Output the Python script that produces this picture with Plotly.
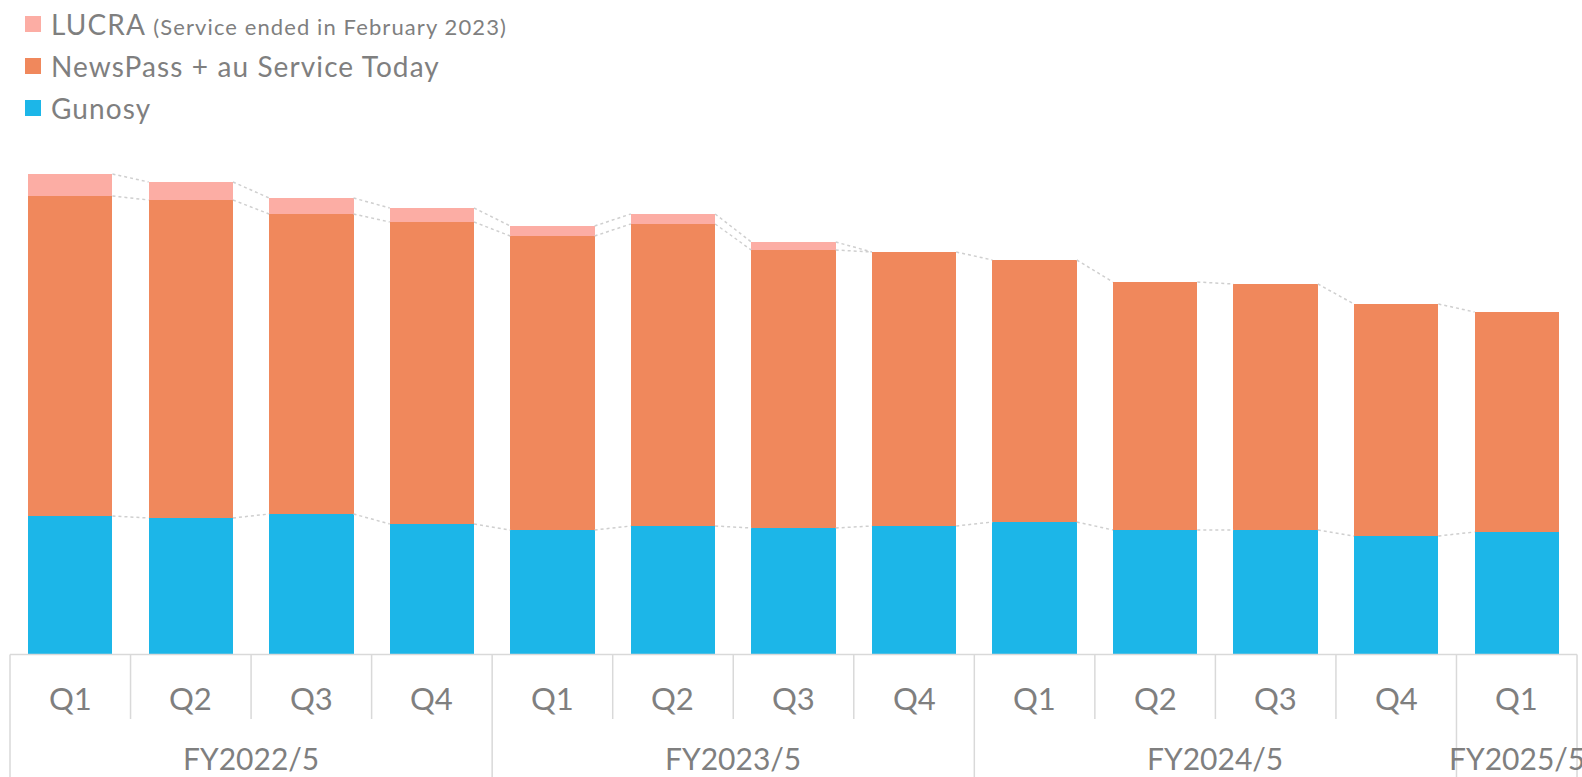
import plotly.graph_objects as go

# ---- data (arbitrary units) ----
quarters = ["Q1", "Q2", "Q3", "Q4", "Q1", "Q2", "Q3", "Q4", "Q1", "Q2", "Q3", "Q4", "Q1"]
fiscal_years = ["FY2022/5", "FY2023/5", "FY2024/5", "FY2025/5"]
fy_sizes = [4, 4, 4, 1]
gunosy = [13.8, 13.6, 14.0, 13.0, 12.4, 12.8, 12.6, 12.8, 13.2, 12.4, 12.4, 11.8, 12.2]
newspass = [32.0, 31.8, 30.0, 30.2, 29.4, 30.2, 27.8, 27.4, 26.2, 24.8, 24.6, 23.2, 22.0]
lucra = [2.2, 1.8, 1.6, 1.4, 1.0, 1.0, 0.8, 0, 0, 0, 0, 0, 0]

series_names = ["Gunosy", "NewsPass + au Service Today", "LUCRA"]
series_colors = ["#1CB6E8", "#F0885C", "#FCADA4"]

BAR_W = 0.7
TEXT_COLOR = "#7f7f7f"
LINE_COLOR = "#d9d9d9"
FONT = "Lato"

n = len(quarters)
x = list(range(n))

fig = go.Figure()
series = [gunosy, newspass, lucra]
for vals, name, col in zip(series, series_names, series_colors):
    fig.add_trace(go.Bar(x=x, y=vals, name=name, width=BAR_W,
                         marker=dict(color=col, line=dict(width=0)),
                         showlegend=False))

# series lines (dotted connectors between stacked segment tops)
cum = [0.0] * n
for k, vals in enumerate(series):
    cum = [c + v for c, v in zip(cum, vals)]
    lx, ly = [], []
    for i in range(n - 1):
        if k == 2 and vals[i] == 0 and vals[i + 1] == 0:
            continue
        lx += [i + BAR_W / 2, i + 1 - BAR_W / 2, None]
        ly += [cum[i], cum[i + 1], None]
    fig.add_trace(go.Scatter(x=lx, y=ly, mode="lines", showlegend=False,
                             hoverinfo="skip",
                             line=dict(color="#cfcfcf", width=1.5, dash="dot")))

# category axis drawn by hand
Y_BOTTOM = -12.3
Y_TICK = -6.5
shapes = [dict(type="line", x0=-0.5, x1=n - 0.5, y0=-0.05, y1=-0.05,
               line=dict(color=LINE_COLOR, width=1.5))]
bounds = [-0.5]
for s in fy_sizes:
    bounds.append(bounds[-1] + s)
for b in bounds:
    shapes.append(dict(type="line", x0=b, x1=b, y0=-0.05, y1=Y_BOTTOM,
                       line=dict(color=LINE_COLOR, width=1.5)))
for i in range(n - 1):
    b = i + 0.5
    if b not in bounds:
        shapes.append(dict(type="line", x0=b, x1=b, y0=-0.05, y1=Y_TICK,
                           line=dict(color=LINE_COLOR, width=1.5)))

annotations = []
for i, q in enumerate(quarters):
    annotations.append(dict(x=i, y=-4.4, text=q, showarrow=False,
                            xanchor="center", yanchor="middle",
                            font=dict(family=FONT, size=31, color=TEXT_COLOR)))
for j, fy in enumerate(fiscal_years):
    cx = (bounds[j] + bounds[j + 1]) / 2
    annotations.append(dict(x=cx, y=-10.4, text=fy, showarrow=False,
                            xanchor="center", yanchor="middle",
                            font=dict(family=FONT, size=30, color=TEXT_COLOR)))

# legend drawn by hand (paper coordinates)
W, H = 1582, 777
legend_items = [
    ("LUCRA <span style='font-size:22px'>(Service ended in February 2023)</span>", series_colors[2], 24),
    ("NewsPass + au Service Today", series_colors[1], 66),
    ("Gunosy", series_colors[0], 108),
]
for txt, col, py in legend_items:
    shapes.append(dict(type="rect", xref="paper", yref="paper",
                       x0=25 / W, x1=41 / W, y0=1 - (py + 8) / H, y1=1 - (py - 8) / H,
                       fillcolor=col, line=dict(width=0)))
    annotations.append(dict(xref="paper", yref="paper", x=49 / W, y=1 - py / H,
                            text="<span style='letter-spacing:1.1px'>" + txt + "</span>",
                            showarrow=False, xanchor="left", yanchor="middle",
                            font=dict(family=FONT, size=28, color=TEXT_COLOR)))

x_lo = -0.5 - 10 / 120.54
x_hi = x_lo + W / 120.54
fig.update_layout(
    width=W, height=H,
    margin=dict(l=0, r=0, t=0, b=0),
    barmode="stack",
    bargap=0.3,
    paper_bgcolor="white", plot_bgcolor="white",
    xaxis=dict(range=[x_lo, x_hi], visible=False, fixedrange=True),
    yaxis=dict(range=[Y_BOTTOM, 65.4], visible=False, fixedrange=True),
    shapes=shapes, annotations=annotations,
    showlegend=False,
)
fig.write_html("out.html")
